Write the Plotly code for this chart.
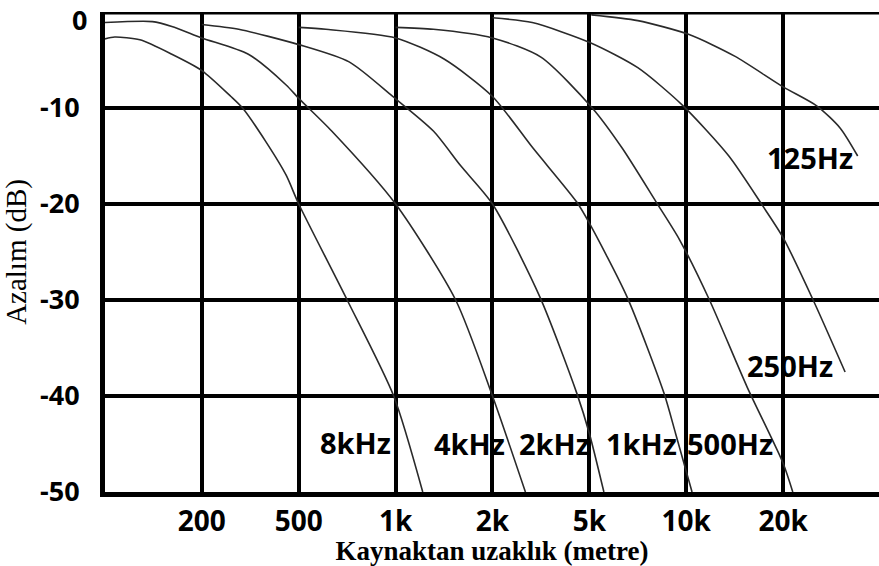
import plotly.graph_objects as go

# Axis positions: evenly spaced grid columns labelled with distances
x_tickvals = [1, 2, 3, 4, 5, 6, 7]
x_ticktext = ["200", "500", "1k", "2k", "5k", "10k", "20k"]
y_tickvals = [-10, -20, -30, -40, -50]
y_ticktext = ["-10", "-20", "-30", "-40", "-50"]
y_top_value = 0
y_top_text = "0"

# Attenuation curves (x = position along the distance axis, y = dB)
f8k_x = [0, 0.1, 0.36, 0.69, 1.0, 1.3, 1.42, 1.66, 1.87, 2.0, 2.5, 2.98, 3.28]
f8k_y = [-2.8, -2.6, -2.9, -4.4, -6.1, -8.8, -10, -13.5, -17.0, -20, -30, -40, -50]

f4k_x = [0, 0.49, 0.69, 1.0, 1.48, 1.87, 2.0, 2.34, 3.0, 3.62, 4.0, 4.34]
f4k_y = [-1.1, -1.0, -1.5, -2.7, -4.4, -7.6, -9.0, -12.4, -20, -30, -40, -50]

f2k_x = [1.0, 1.38, 2.0, 2.52, 2.97, 3.39, 3.67, 4.0, 4.49, 4.87, 5.0, 5.15]
f2k_y = [-1.3, -1.8, -3.4, -5.2, -8.8, -12.4, -16.0, -20, -29.7, -39.7, -43.9, -50]

f1k_x = [2.0, 2.28, 3.0, 3.5, 4.0, 4.42, 4.87, 5.0, 5.39, 5.77, 5.89, 6.06]
f1k_y = [-1.6, -1.8, -2.7, -4.9, -8.8, -14.2, -19.8, -22.0, -29.7, -39.7, -43.9, -50]

f500_x = [3.0, 3.39, 4.0, 4.5, 5.03, 5.34, 5.69, 5.93, 6.24, 6.63, 7.0, 7.1]
f500_y = [-1.6, -1.8, -2.7, -4.7, -10, -14.2, -19.8, -23.7, -30, -39.1, -47.0, -50]

f250_x = [4.0, 4.41, 5.01, 5.5, 5.96, 6.44, 6.79, 7.0, 7.31, 7.64]
f250_y = [-0.6, -1.1, -3.2, -5.8, -9.7, -15.0, -20.2, -23.5, -30, -37.5]

f125_x = [5.02, 5.5, 6.03, 6.5, 7.0, 7.35, 7.59, 7.77]
f125_y = [-0.3, -0.9, -2.35, -4.6, -7.8, -9.8, -12.1, -15.0]

curves = [
    ("8kHz", f8k_x, f8k_y),
    ("4kHz", f4k_x, f4k_y),
    ("2kHz", f2k_x, f2k_y),
    ("1kHz", f1k_x, f1k_y),
    ("500Hz", f500_x, f500_y),
    ("250Hz", f250_x, f250_y),
    ("125Hz", f125_x, f125_y),
]

# Curve labels and their positions
label_text = ["8kHz", "4kHz", "2kHz", "1kHz", "500Hz", "250Hz", "125Hz"]
label_x = [2.59, 3.76, 4.64, 5.54, 6.45, 7.07, 7.28]
label_y = [-44.8, -44.9, -44.9, -44.9, -44.9, -36.8, -15.2]

fig = go.Figure()
for name, xs, ys in curves:
    fig.add_trace(go.Scatter(
        x=xs, y=ys, mode="lines", name=name,
        line=dict(color="#2a2a2a", width=1.6, shape="spline", smoothing=0.7),
        showlegend=False, hoverinfo="skip",
    ))

for t, lx, ly in zip(label_text, label_x, label_y):
    fig.add_annotation(
        x=lx, y=ly, xref="x", yref="y", text=t, showarrow=False,
        font=dict(family="Open Sans", size=29, color="black", weight="bold"),
        xanchor="center", yanchor="middle",
    )

# "0" tick label at the top of the y axis (placed as annotation so it is not clipped)
fig.add_annotation(
    x=0, y=y_top_value, xref="paper", yref="y", text=y_top_text, showarrow=False,
    font=dict(family="Open Sans", size=27, color="black", weight="bold"),
    xanchor="right", yanchor="middle", xshift=-16, yshift=-7,
)

# Top frame line
fig.add_shape(type="line", xref="paper", yref="y", x0=0, x1=1, y0=0, y1=0,
              line=dict(color="black", width=5), layer="above")

fig.update_layout(
    width=879, height=566,
    margin=dict(l=105, r=0, t=12, b=74),
    paper_bgcolor="white", plot_bgcolor="white",
    xaxis=dict(
        range=[0, 7.99], tickvals=x_tickvals, ticktext=x_ticktext,
        showgrid=True, gridcolor="black", gridwidth=4,
        showline=True, linecolor="black", linewidth=5,
        zeroline=False, ticks="",
        tickfont=dict(family="Open Sans", size=28, color="black", weight="bold"),
        title=dict(text="Kaynaktan uzaklık (metre)", standoff=2,
                   font=dict(family="Liberation Serif", size=27, color="black", weight="bold")),
        automargin=False,
    ),
    yaxis=dict(
        range=[-50, 0], tickvals=y_tickvals, ticktext=y_ticktext,
        showgrid=True, gridcolor="black", gridwidth=4,
        showline=True, linecolor="black", linewidth=5,
        zeroline=False, ticks="", ticklabelstandoff=15,
        tickfont=dict(family="Open Sans", size=27, color="black", weight="bold"),
        title=dict(text="Azalım (dB)", standoff=6,
                   font=dict(family="Liberation Serif", size=29, color="black")),
        automargin=False,
    ),
)

fig.write_html("out.html")
